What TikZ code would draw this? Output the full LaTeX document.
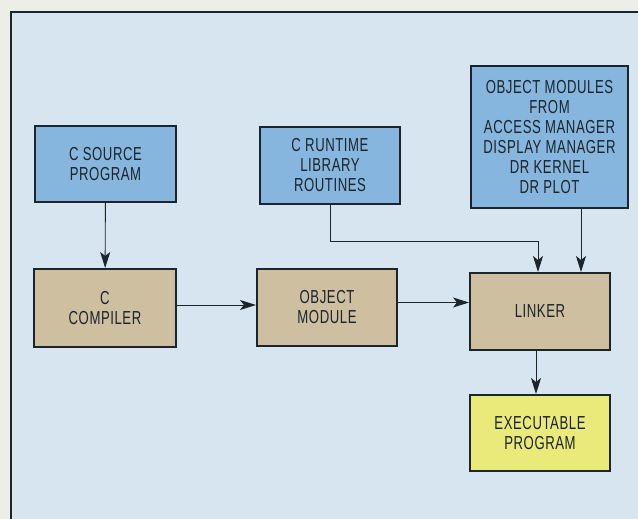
\documentclass[tikz,border=0pt]{standalone}
\usepackage{fontspec}
\setmainfont{Liberation Sans}[FakeStretch=0.7, LetterSpace=3]
\usetikzlibrary{positioning, arrows.meta, calc}
\definecolor{page-color}{RGB}{238,238,233}
\definecolor{panel-color}{RGB}{214,229,239}
\definecolor{source-color}{RGB}{134,182,221}
\definecolor{tool-color}{RGB}{205,191,159}
\definecolor{result-color}{RGB}{234,234,122}
\definecolor{ink-color}{RGB}{28,36,44}

\begin{document}
\begin{tikzpicture}[x=1pt, y=-1pt,
    box/.style={rectangle, draw=ink-color, line width=2pt, align=center, text=ink-color, font=\fontsize{18.8}{20}\selectfont, inner sep=0pt},
    input/.style={box, fill=source-color},
    tool/.style={box, fill=tool-color},
    result/.style={box, fill=result-color},
    arrow/.style={-{Stealth[length=16pt, width=10pt, inset=4pt]}, draw=ink-color, line width=0.9pt}]

    % Page and panel
    \fill[page-color] (0,0) rectangle (638,519);
    \useasboundingbox (0,0) rectangle (638,519);
    \fill[panel-color] (11,12) rectangle (638,519);
    \draw[ink-color, line width=2pt] (11,519) -- (11,12) -- (638,12);

    % Inputs
    \node[input, minimum width=141pt, minimum height=76pt] (src) at (105.5,164) {C SOURCE\\PROGRAM};
    \node[input, minimum width=140pt, minimum height=77pt] (rt) at (330,165.5) {C RUNTIME\\LIBRARY\\ROUTINES};
    \node[input, minimum width=157pt, minimum height=142pt] (objmods) at (549.5,137) {OBJECT MODULES\\FROM\\ACCESS MANAGER\\DISPLAY MANAGER\\DR KERNEL\\DR PLOT};

    % Build steps
    \node[tool, minimum width=142pt, minimum height=78pt] (comp) at (105,308) {C\\COMPILER};
    \node[tool, minimum width=140pt, minimum height=77pt] (objmod) at (327,307.5) {OBJECT\\MODULE};
    \node[tool, minimum width=140pt, minimum height=77pt] (link) at (540,311.5) {LINKER};

    % Output
    \node[result, minimum width=140pt, minimum height=76pt] (exe) at (540,433) {EXECUTABLE\\PROGRAM};

    % Joint of the runtime line
    \coordinate (rtjoin) at (538,241);

    % Arrows
    \draw[arrow] (src) -- (comp);
    \draw[arrow] ([yshift=3pt]comp.east) -- ([yshift=3pt]comp.east -| objmod.west);
    \draw[arrow] ([yshift=5pt]objmod.east) -- ([yshift=5pt]objmod.east -| link.west);
    \draw[arrow] (rt.south) |- (rtjoin) -- (rtjoin |- link.north);
    \draw[arrow] ([xshift=31.5pt]objmods.south) -- ([xshift=31.5pt]objmods.south |- link.north);
    \draw[arrow] ([xshift=-4pt]link.south) -- ([xshift=-4pt]link.south |- exe.north);
\end{tikzpicture}
\end{document}
